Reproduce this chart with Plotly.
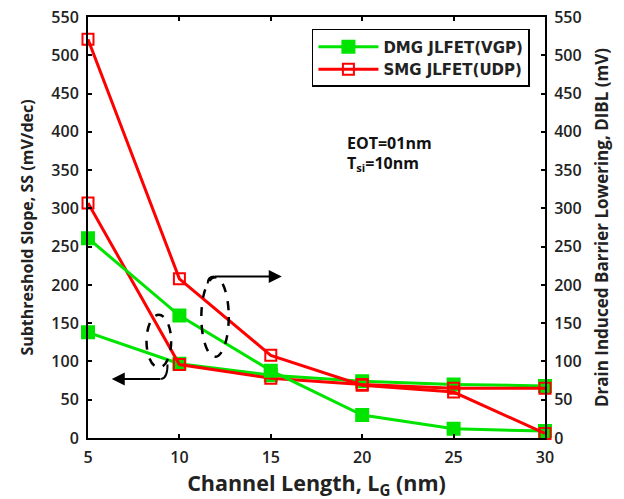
import plotly.graph_objects as go

lg = [5, 10, 15, 20, 25, 30]
ss_dmg = [138, 97, 82, 74, 70, 68]
ss_smg = [307, 96, 78, 70, 65, 65]
dibl_dmg = [261, 160, 88, 30, 12, 9]
dibl_smg = [521, 208, 108, 69, 60, 6]
yticks = list(range(0, 551, 50))
xticks = [5, 10, 15, 20, 25, 30]

GREEN = "#00E400"
RED = "#FF0000"
FONT = "Open Sans"

fig = go.Figure()

def add(x, y, color, filled, name, show, yaxis):
    fig.add_trace(go.Scatter(
        x=x, y=y, mode="lines+markers", name=name, showlegend=show,
        yaxis=yaxis, cliponaxis=False,
        line=dict(color=color, width=3),
        marker=dict(symbol="square" if filled else "square-open", size=12 if filled else 11,
                    color=color, line=dict(color=color, width=2)),
    ))

add(lg, ss_dmg, GREEN, True, "DMG JLFET(VGP)", True, "y")
add(lg, ss_smg, RED, False, "SMG JLFET(UDP)", True, "y")
add(lg, dibl_dmg, GREEN, True, "DMG JLFET(VGP)", False, "y2")
add(lg, dibl_smg, RED, False, "SMG JLFET(UDP)", False, "y2")

tickfont = dict(family=FONT, size=16, color="#222222", weight=600)
ytitlefont = dict(family=FONT, size=16, color="#222222", weight=700)
y2titlefont = dict(family=FONT, size=17, color="#222222", weight=700)
xtitlefont = dict(family=FONT, size=21.5, color="#222222", weight=700)

fig.update_layout(
    width=624, height=499,
    margin=dict(l=80, r=87, t=9, b=69),
    plot_bgcolor="white", paper_bgcolor="white",
    xaxis=dict(range=[5, 30], tickvals=xticks, ticks="inside", ticklen=4, tickwidth=2,
               tickcolor="black", showline=True, linecolor="black", linewidth=2,
               mirror="ticks", showgrid=False, zeroline=False, tickfont=tickfont,
               automargin=False, ticklabelstandoff=4, ticklabeloverflow="allow",
               title=dict(text="Channel Length, L<sub>G</sub> (nm)", font=xtitlefont, standoff=0)),
    yaxis=dict(range=[0, 550], tickvals=yticks, ticks="inside", ticklen=4, tickwidth=2,
               tickcolor="black", showline=True, linecolor="black", linewidth=2,
               showgrid=False, zeroline=False, tickfont=tickfont, automargin=False,
               ticklabelstandoff=4, ticklabeloverflow="allow",
               title=dict(text="Subthreshold Slope, SS (mV/dec)", font=ytitlefont, standoff=14)),
    yaxis2=dict(range=[0, 550], tickvals=yticks, ticks="inside", ticklen=4, tickwidth=2,
                tickcolor="black", showline=True, linecolor="black", linewidth=2,
                overlaying="y", side="right", showgrid=False, zeroline=False, tickfont=tickfont,
                automargin=False, ticklabelstandoff=4, ticklabeloverflow="allow",
                title=dict(text="Drain Induced Barrier Lowering, DIBL (mV)", font=y2titlefont, standoff=15)),
    legend=dict(x=0.967, y=0.9715, xanchor="right", yanchor="top",
                bordercolor="black", borderwidth=1.5, bgcolor="white",
                font=dict(family="DejaVu Sans", size=15, color="#222222", weight=700),
                tracegroupgap=0, itemwidth=60),
    showlegend=True,
)

# dashed ellipses
fig.add_shape(type="circle", xref="x", yref="y", x0=8.2, x1=9.55, y0=92, y1=161,
              line=dict(color="black", width=2.5, dash="dash"))
fig.add_shape(type="circle", xref="x", yref="y", x0=11.2, x1=12.7, y0=106, y1=210,
              line=dict(color="black", width=2.5, dash="dash"))
# connectors
fig.add_shape(type="path", xref="x", yref="y",
              path="M 9.35,96 Q 9.35,78 9.0,77", line=dict(color="black", width=2))
fig.add_shape(type="path", xref="x", yref="y",
              path="M 11.55,202 Q 11.55,211 11.9,211", line=dict(color="black", width=2))
# arrows
fig.add_annotation(x=6.3, y=77, ax=9.05, ay=77, xref="x", yref="y", axref="x", ayref="y",
                   text="", showarrow=True, arrowhead=2, arrowsize=1.3, arrowwidth=2, arrowcolor="black")
fig.add_annotation(x=15.6, y=211, ax=11.85, ay=211, xref="x", yref="y", axref="x", ayref="y",
                   text="", showarrow=True, arrowhead=2, arrowsize=1.3, arrowwidth=2, arrowcolor="black")

fig.add_annotation(x=19.05, y=386, xref="x", yref="y", xanchor="left", yanchor="middle",
                   text="EOT=01nm", showarrow=False,
                   font=dict(family=FONT, size=16, color="#111111", weight=700))
fig.add_annotation(x=19.05, y=359, xref="x", yref="y", xanchor="left", yanchor="middle",
                   text="T<sub>si</sub>=10nm", showarrow=False,
                   font=dict(family=FONT, size=16, color="#111111", weight=700))

fig.write_html("out.html")
